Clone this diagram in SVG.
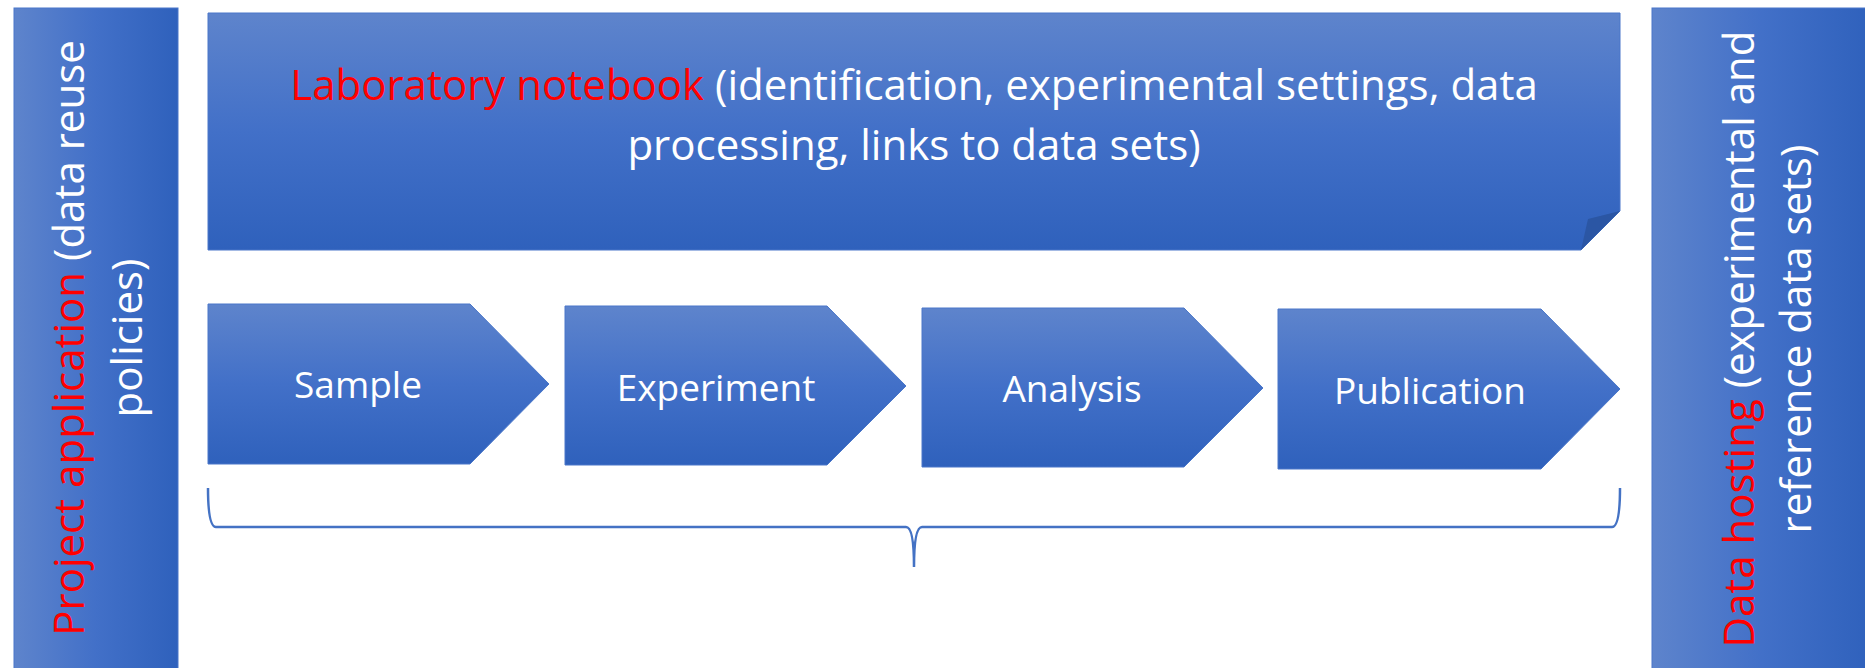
<svg xmlns="http://www.w3.org/2000/svg" width="1865" height="668" viewBox="0 0 1865 668">
<defs>
<linearGradient id="gv" x1="0" y1="0" x2="0" y2="1">
<stop offset="0" stop-color="#5e84cc"/>
<stop offset="0.5" stop-color="#4270c8"/>
<stop offset="1" stop-color="#2f61bc"/>
</linearGradient>
<linearGradient id="gh" x1="0" y1="0" x2="1" y2="0">
<stop offset="0" stop-color="#5e84cc"/>
<stop offset="0.5" stop-color="#4270c8"/>
<stop offset="1" stop-color="#2f61bc"/>
</linearGradient>
<style>
.shape{fill:url(#gv);stroke:#4a77c9;stroke-width:1}
.bar{fill:url(#gh);stroke:#4a77c9;stroke-width:1}
.t{font-family:"Open Sans","Noto Sans","Liberation Sans",sans-serif;fill:#ffffff}
.red{fill:#ff0000}
.lbl{font-size:37px;text-anchor:middle}
.big{font-size:42px}
.brace{fill:none;stroke:#4472c4;stroke-width:2.5}
</style>
</defs>
<g id="project-application">
<rect class="bar" x="14" y="8" width="164" height="670"/>
<text class="t big" transform="translate(84,338) rotate(-90)" text-anchor="middle"><tspan class="red">Project application</tspan> (data reuse</text>
<text class="t big" transform="translate(142,338) rotate(-90)" text-anchor="middle">policies)</text>
</g>
<g id="lab-notebook">
<path class="shape" d="M208,13 H1620 V211 L1581,250 H208 Z"/>
<path d="M1620,211 L1588,219 L1581,250 Z" fill="#2b56a4"/>
<text class="t big" x="914" y="100" text-anchor="middle"><tspan class="red">Laboratory notebook</tspan> (identification, experimental settings, data</text>
<text class="t big" x="914" y="160" text-anchor="middle">processing, links to data sets)</text>
</g>
<g id="data-hosting">
<rect class="bar" x="1652" y="8" width="220" height="670"/>
<text class="t big" transform="translate(1754,339) rotate(-90)" text-anchor="middle"><tspan class="red">Data hosting</tspan> (experimental and</text>
<text class="t big" transform="translate(1811,339) rotate(-90)" text-anchor="middle">reference data sets)</text>
</g>
<g id="sample">
<path class="shape" d="M208,304 H470 L549,384 L470,464 H208 Z"/>
<text class="t lbl" x="358" y="398">Sample</text>
</g>
<g id="experiment">
<path class="shape" d="M565,306 H827 L906,386 L827,465 H565 Z"/>
<text class="t lbl" x="716" y="401">Experiment</text>
</g>
<g id="analysis">
<path class="shape" d="M922,308 H1184 L1263,388 L1184,467 H922 Z"/>
<text class="t lbl" x="1072" y="402">Analysis</text>
</g>
<g id="publication">
<path class="shape" d="M1278,309 H1541 L1620,389 L1541,469 H1278 Z"/>
<text class="t lbl" x="1430" y="404">Publication</text>
</g>
<g id="connectors">
<path class="brace" d="M208,488 Q208,527 216,527 H906 Q914,527 914,567 Q914,527 922,527 H1612 Q1620,527 1620,488"/>
</g>
</svg>
